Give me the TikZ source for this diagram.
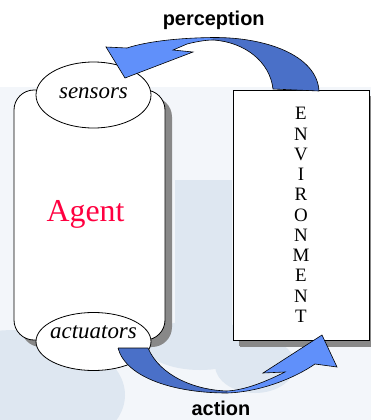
\documentclass[tikz,border=0pt]{standalone}
\usepackage{fontspec}
\setmainfont{Liberation Serif}
\newfontfamily\arialfont{Liberation Sans}
\usetikzlibrary{shadows,shapes.geometric}
\definecolor{agentred}{RGB}{255,0,64}
\definecolor{darkblue}{RGB}{74,112,200}
\definecolor{lightblue}{RGB}{96,144,250}
\definecolor{bgblue}{RGB}{222,231,241}
\definecolor{bgpale}{RGB}{243,246,250}
\definecolor{shadowgray}{RGB}{136,136,136}
\begin{document}
\begin{tikzpicture}[x=1bp,y=-1bp,
  boxstyle/.style={draw=black, line width=0.8bp, fill=white,
    drop shadow={shadow xshift=7bp, shadow yshift=-7bp, fill=shadowgray, opacity=1}},
  ellstyle/.style={draw=black, line width=0.8bp, fill=white, ellipse, inner sep=0pt},
  ittext/.style={font=\fontsize{23}{26}\selectfont\itshape},
  bandline/.style={draw=black, line width=0.6bp},
  lbl/.style={font=\arialfont\bfseries\fontsize{20}{24}\selectfont}]
\useasboundingbox (0,0) rectangle (371,420);
% background
\fill[white] (0,0) rectangle (371,420);
\fill[bgpale] (0,87) rectangle (371,420);
\fill[bgblue] (15,395) ellipse (110 and 65);
\fill[bgblue] (175,180) rectangle (232,335);
\fill[bgblue] (200,345) ellipse (55 and 25);
\fill[bgblue] (255,365) ellipse (40 and 28);

% agent box
\node[boxstyle, rounded corners=20bp, minimum width=151bp, minimum height=250bp]
  (agent) at (89.5,215) {};
\node[font=\fontsize{32}{36}\selectfont, text=agentred, anchor=base] (agenttxt) at (85.5,221) {Agent};

% environment box
\node[boxstyle, drop shadow={shadow xshift=6bp, shadow yshift=-6bp, fill=shadowgray, opacity=1},
  minimum width=136bp, minimum height=250bp, align=center, inner sep=0pt,
  font=\fontsize{19}{20.34}\selectfont] (env) at (301,215)
  {E\\N\\V\\I\\R\\O\\N\\M\\E\\N\\T};

% sensors / actuators
\node[ellstyle, minimum width=115bp, minimum height=66bp] (sensors) at (93.5,95) {};
\node[ittext] at (93.5,93) {sensors};
\node[ellstyle, minimum width=115bp, minimum height=58bp] (actuators) at (93.5,341.5) {};
\node[ittext] at (93.5,332) {actuators};

% perception arrow
\fill[darkblue] (273,89) -- (319,91) .. controls (317,55) and (265,37) .. (213,37.5)
  -- (213,40) .. controls (245,42) and (270,62) .. (273,89) -- cycle;
\fill[lightblue] (213,37.5) .. controls (175,38) and (145,42) .. (127,48)
  -- (106,47) -- (125,78) -- (193,52) -- (173,50) -- (187,44)
  .. controls (195,42) and (205,40) .. (213,40) -- cycle;
\draw[bandline] (273,89) -- (319,91) .. controls (317,55) and (265,37) .. (213,37.5)
  .. controls (175,38) and (145,42) .. (127,48)
  -- (106,47) -- (125,78) -- (193,52) -- (173,50) -- (187,44)
  .. controls (195,42) and (205,40) .. (213,40)
  .. controls (245,42) and (270,62) .. (273,89);

% action arrow
\fill[darkblue] (118,348) -- (148,348) .. controls (160,376) and (195,390) .. (227,391)
  -- (227,393) .. controls (175,393) and (126,378) .. (118,348) -- cycle;
\fill[lightblue] (227,393) .. controls (260,392) and (295,378) .. (315,364)
  -- (337,367) -- (322,335) -- (263,373) -- (285,372)
  .. controls (265,382) and (245,390) .. (227,391) -- cycle;
\draw[bandline] (118,348) -- (148,348) .. controls (160,376) and (195,390) .. (227,391)
  .. controls (245,390) and (265,382) .. (285,372)
  -- (263,373) -- (322,335) -- (337,367) -- (315,364)
  .. controls (295,378) and (260,392) .. (227,393)
  .. controls (175,393) and (126,378) .. (118,348);

% labels
\node[lbl, anchor=base] (perc) at (213.7,25) {perception};
\node[lbl, anchor=base] (act) at (221,415) {action};
\end{tikzpicture}
\end{document}
